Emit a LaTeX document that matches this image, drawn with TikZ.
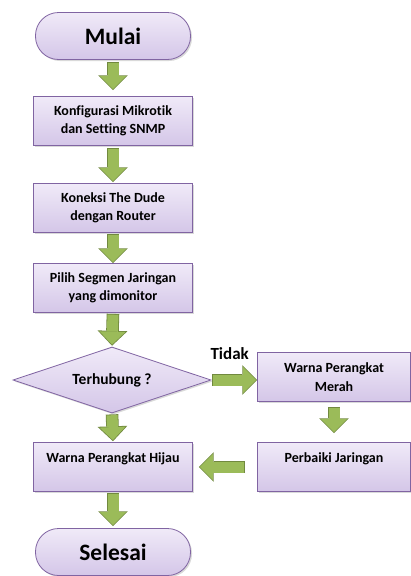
\documentclass[tikz,border=0pt]{standalone}
\usepackage{fontspec}
\setmainfont[Ligatures=NoCommon]{Carlito}
\usetikzlibrary{shapes.geometric, arrows.meta, shadows}
\definecolor{boxtop}{HTML}{F0EAF8}
\definecolor{boxbot}{HTML}{D4C6E8}
\definecolor{boxline}{HTML}{8064A2}
\definecolor{arrowfill}{HTML}{9BBB59}
\definecolor{arrowline}{HTML}{71893F}

\begin{document}
\begin{tikzpicture}[x=1pt, y=-1pt,
  blok/.style={draw=boxline, line width=0.8pt, top color=boxtop, bottom color=boxbot,
    drop shadow={opacity=0.3, shadow xshift=1.5pt, shadow yshift=-1.5pt},
    align=center, font=\fontsize{14}{18.5}\selectfont\bfseries, inner sep=2pt,
    minimum width=159pt, minimum height=49pt},
  ujung/.style={blok, rounded corners=23pt, font=\fontsize{23.5}{26}\selectfont\bfseries,
    minimum width=155pt, minimum height=47pt},
  cabang/.style={blok, diamond, aspect=3, minimum width=198pt, minimum height=66pt,
    font=\fontsize{15.5}{18}\selectfont\bfseries},
  satu/.style={text height=9pt, text depth=18pt},
  panah/.style 2 args={line width=11pt, draw=arrowfill, shorten <=#1+0.8pt, shorten >=#2,
    -{Triangle[length=13pt, width=26pt, line width=0pt]},
    preaction={draw=arrowline, line width=12.6pt, shorten <=#1, shorten >=#2-1.13pt,
      -{Triangle[length=14.93pt, width=29.86pt, line width=0pt]}}}]
\useasboundingbox (0,0) rectangle (411,576);

\node[ujung] (mulai) at (113,36) {Mulai};
\node[blok] (konfig) at (113,121) {Konfigurasi Mikrotik\\dan Setting SNMP};
\node[blok] (koneksi) at (113,208) {Koneksi The Dude\\dengan Router};
\node[blok] (segmen) at (113,288) {Pilih Segmen Jaringan\\yang dimonitor};
\node[cabang] (cek) at (112,380) {Terhubung ?};
\node[blok, minimum width=153pt] (merah) at (334,377) {Warna Perangkat\\Merah};
\node[blok, satu, minimum width=153pt] (perbaiki) at (334,467) {Perbaiki Jaringan};
\node[blok, satu] (hijau) at (113,467) {Warna Perangkat Hijau};
\node[ujung] (selesai) at (113,552) {Selesai};

\draw[panah={2pt}{7pt}] (mulai.south) -- (konfig.north);
\draw[panah={2pt}{2pt}] (konfig.south) -- (koneksi.north);
\draw[panah={1pt}{1pt}] (koneksi.south) -- (segmen.north);
\draw[panah={1pt}{2pt}] (segmen.south) -- (cek.north);
\draw[panah={1pt}{1pt}] (cek.east) -- (cek.east -| merah.west)
  node[pos=0.4, above=15pt, inner sep=0pt, font=\fontsize{17}{20}\selectfont\bfseries] (tidak) {Tidak};
\draw[panah={5pt}{10pt}] (merah.south) -- (perbaiki.north);
\draw[panah={12pt}{7pt}] (perbaiki.west) -- (hijau.east);
\draw[panah={1pt}{2pt}] (cek.south) -- (hijau.north);
\draw[panah={1pt}{3pt}] (hijau.south) -- (selesai.north);
\end{tikzpicture}
\end{document}
